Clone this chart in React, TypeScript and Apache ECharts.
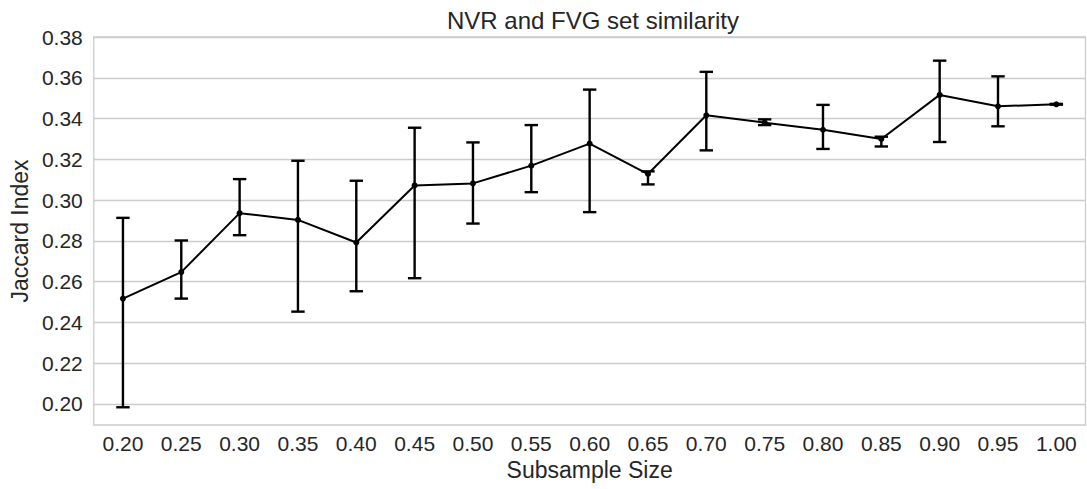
import React, { useEffect, useRef } from "react";
import * as echarts from "echarts";

const categories = ["0.20", "0.25", "0.30", "0.35", "0.40", "0.45", "0.50", "0.55", "0.60", "0.65", "0.70", "0.75", "0.80", "0.85", "0.90", "0.95", "1.00"];
const means = [0.2517, 0.2647, 0.2936, 0.2903, 0.2792, 0.3072, 0.3082, 0.3169, 0.3277, 0.3128, 0.3416, 0.338, 0.3345, 0.33, 0.3516, 0.346, 0.347];
const lowers = [0.1984, 0.2517, 0.2828, 0.2453, 0.2553, 0.2617, 0.2885, 0.3039, 0.2941, 0.3077, 0.3244, 0.3368, 0.3251, 0.3263, 0.3285, 0.3362, 0.3468];
const uppers = [0.2913, 0.2802, 0.3103, 0.3193, 0.3095, 0.3355, 0.3283, 0.3368, 0.3542, 0.3141, 0.3629, 0.3396, 0.3467, 0.3311, 0.3684, 0.3607, 0.3472];
const yTicks = [0.2, 0.22, 0.24, 0.26, 0.28, 0.3, 0.32, 0.34, 0.36, 0.38];

const FONT = "'Liberation Sans', Arial, sans-serif";
const TEXT = "#262626";
const GRID = "#cccccc";

export default function App() {
  const ref = useRef<HTMLDivElement>(null);
  useEffect(() => {
    const chart = echarts.init(ref.current!, undefined, { renderer: "svg" });
    const errData = categories.map((_, i) => [i, lowers[i], uppers[i]]);
    chart.setOption({
      animation: false,
      backgroundColor: "#ffffff",
      textStyle: { fontFamily: FONT },
      title: {
        text: "NVR and FVG set similarity",
        left: 588,
        textAlign: "center",
        top: 3,
        textStyle: { fontFamily: FONT, fontSize: 24, fontWeight: "normal", color: TEXT },
      },
      grid: {
        left: 91.5,
        right: 1.5,
        top: 37,
        bottom: 64,
        show: true,
        borderColor: GRID,
        borderWidth: 1.3,
        containLabel: false,
      },
      xAxis: {
        type: "category",
        data: categories,
        boundaryGap: true,
        name: "Subsample Size",
        nameLocation: "middle",
        nameGap: 32,
        nameTextStyle: { fontFamily: FONT, fontSize: 23, color: TEXT },
        axisLine: { show: false },
        axisTick: { show: false },
        splitLine: { show: false },
        axisLabel: { fontFamily: FONT, fontSize: 21, color: TEXT, margin: 8 },
      },
      yAxis: {
        type: "value",
        min: 0.1897,
        max: 0.38,
        name: "Jaccard Index",
        nameLocation: "middle",
        nameGap: 60,
        nameTextStyle: { fontFamily: FONT, fontSize: 23, color: TEXT },
        axisLine: { show: false },
        axisTick: { show: false, customValues: yTicks },
        axisLabel: {
          fontFamily: FONT,
          fontSize: 21,
          color: TEXT,
          margin: 11,
          customValues: yTicks,
          formatter: (v: number) => v.toFixed(2),
        },
        splitLine: { show: true, lineStyle: { color: GRID, width: 1.3 } },
      },
      series: [
        {
          type: "custom",
          data: errData,
          z: 2,
          renderItem: (params: any, api: any) => {
            const x = api.value(0);
            const lo = api.coord([x, api.value(1)]);
            const hi = api.coord([x, api.value(2)]);
            const hw = 6.7;
            const style = { stroke: "#000000", lineWidth: 2.4 };
            return {
              type: "group",
              children: [
                { type: "line", shape: { x1: lo[0], y1: lo[1], x2: hi[0], y2: hi[1] }, style },
                { type: "line", shape: { x1: lo[0] - hw, y1: lo[1], x2: lo[0] + hw, y2: lo[1] }, style },
                { type: "line", shape: { x1: hi[0] - hw, y1: hi[1], x2: hi[0] + hw, y2: hi[1] }, style },
              ],
            };
          },
        },
        {
          type: "line",
          data: means,
          z: 3,
          symbol: "circle",
          symbolSize: 6,
          lineStyle: { color: "#000000", width: 2 },
          itemStyle: { color: "#000000" },
        },
      ],
    });
    return () => chart.dispose();
  }, []);
  return (
    <div
      ref={ref}
      style={{ position: "fixed", left: 0, top: 0, width: 1087, height: 489 }}
    />
  );
}
